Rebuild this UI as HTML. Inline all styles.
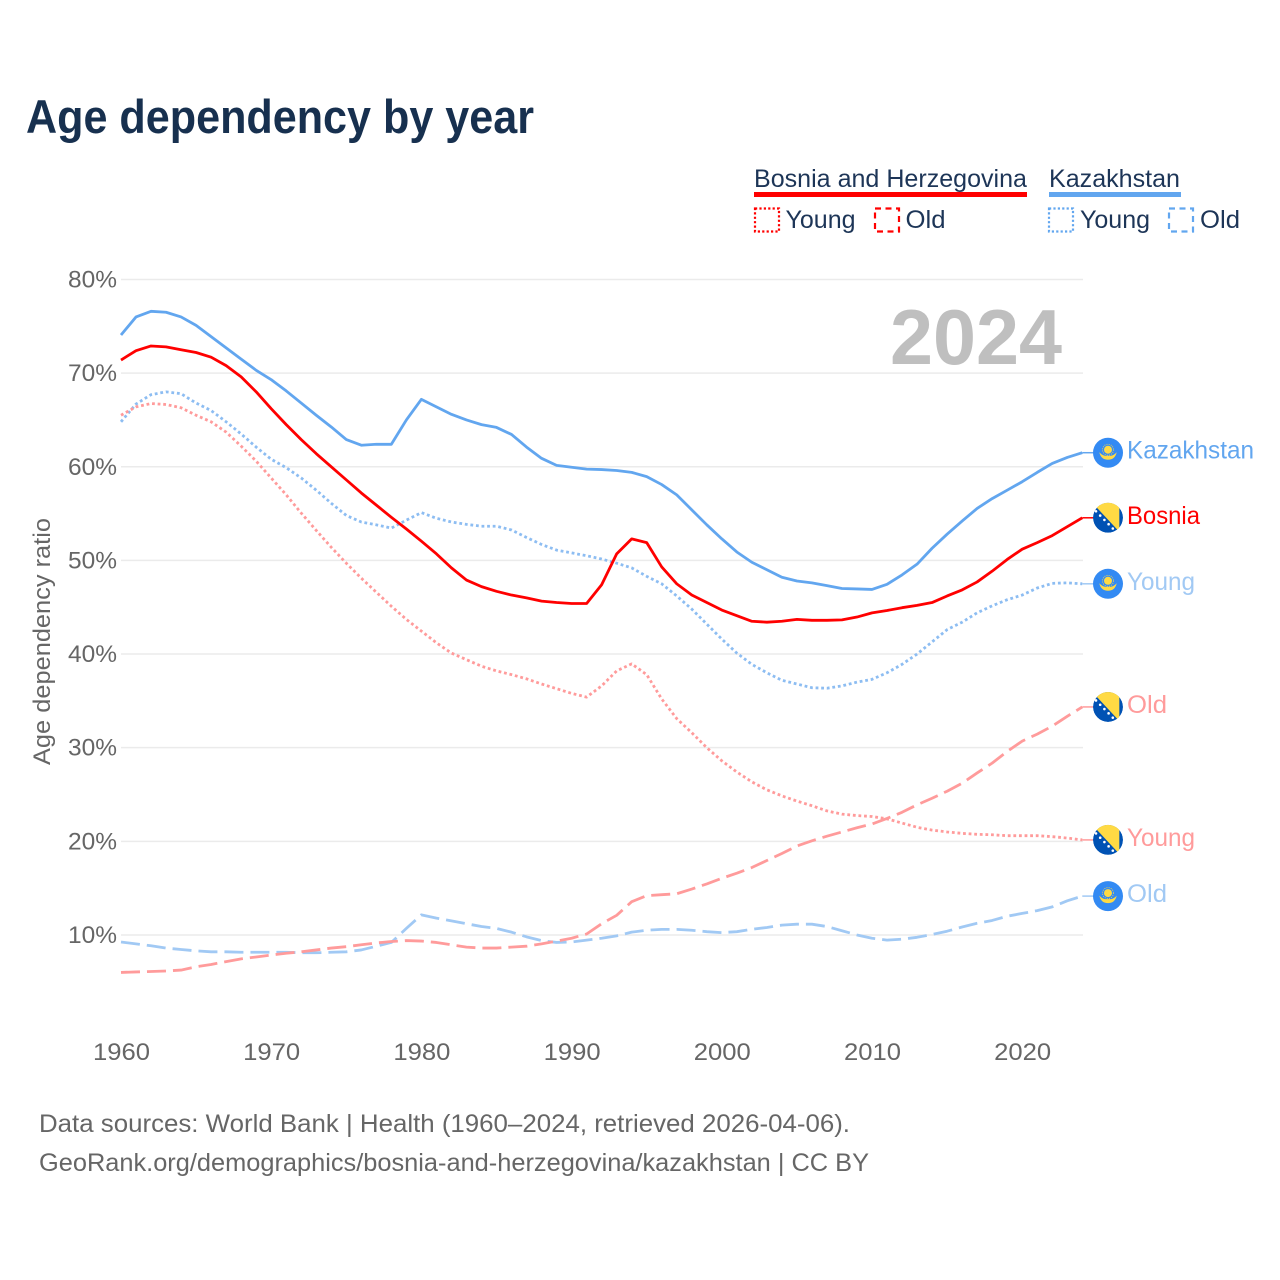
<!DOCTYPE html>
<html lang="en">
<head>
<meta charset="utf-8">
<title>Age dependency by year</title>
<style>
html,body{margin:0;padding:0;background:#fff;}
svg{display:block;}
text{font-family:"Liberation Sans",sans-serif;}
</style>
</head>
<body>
<svg id="chart" xmlns="http://www.w3.org/2000/svg" width="1280" height="1280" viewBox="0 0 1280 1280">
  <rect width="1280" height="1280" fill="#ffffff"/>
  <text x="26" y="133" font-size="47" font-weight="700" fill="#17304f" textLength="508" lengthAdjust="spacingAndGlyphs">Age dependency by year</text>

  <g font-size="25" fill="#1d3557">
    <text x="754" y="187" textLength="273" lengthAdjust="spacingAndGlyphs">Bosnia and Herzegovina</text>
    <rect x="754" y="192" width="273" height="5" fill="#ff0000"/>
    <text x="1049" y="187" textLength="131" lengthAdjust="spacingAndGlyphs">Kazakhstan</text>
    <rect x="1049" y="192" width="132" height="5" fill="#62a6ef"/>
    <rect x="755" y="208.500" width="24" height="23" fill="none" stroke="#ff0000" stroke-width="2.200" stroke-dasharray="2.200 2.200"/>
    <text x="785.500" y="228" textLength="70" lengthAdjust="spacingAndGlyphs">Young</text>
    <rect x="875" y="208.500" width="24" height="23" fill="none" stroke="#ff0000" stroke-width="2.200" stroke-dasharray="6 4.500"/>
    <text x="905.500" y="228" textLength="40" lengthAdjust="spacingAndGlyphs">Old</text>
    <rect x="1049" y="208.500" width="24" height="23" fill="none" stroke="#62a6ef" stroke-width="2.200" stroke-dasharray="2.200 2.200"/>
    <text x="1080" y="228" textLength="70" lengthAdjust="spacingAndGlyphs">Young</text>
    <rect x="1169" y="208.500" width="24" height="23" fill="none" stroke="#62a6ef" stroke-width="2.200" stroke-dasharray="6 4.500"/>
    <text x="1200" y="228" textLength="40" lengthAdjust="spacingAndGlyphs">Old</text>
  </g>

  <text x="890" y="364" font-size="78" font-weight="700" fill="#bfbfbf" textLength="172" lengthAdjust="spacingAndGlyphs">2024</text>
  <text transform="translate(50,641.500) rotate(-90)" text-anchor="middle" font-size="24" fill="#666666" textLength="247" lengthAdjust="spacingAndGlyphs">Age dependency ratio</text>

  <g id="grid"></g>
  <g id="yticks"></g>
  <g id="xticks"></g>
  <g id="series"></g>
  <g id="ends"></g>

  <text x="39" y="1132" font-size="25" fill="#666666" textLength="811" lengthAdjust="spacingAndGlyphs">Data sources: World Bank | Health (1960–2024, retrieved 2026-04-06).</text>
  <text x="39" y="1171" font-size="25" fill="#666666" textLength="830" lengthAdjust="spacingAndGlyphs">GeoRank.org/demographics/bosnia-and-herzegovina/kazakhstan | CC BY</text>

  <defs>
    <clipPath id="flag-clip"><circle cx="0" cy="0" r="15"/></clipPath>
  </defs>
</svg>

<script>
const startYear = 1960;
const yTickValues = [10, 20, 30, 40, 50, 60, 70, 80];
const yTickLabels = ["10%", "20%", "30%", "40%", "50%", "60%", "70%", "80%"];
const xTickValues = [1960, 1970, 1980, 1990, 2000, 2010, 2020];
const xTickLabels = ["1960", "1970", "1980", "1990", "2000", "2010", "2020"];

const kazakhstanTotal = [74.07,76.0,76.6,76.5,76.0,75.1,73.9,72.7,71.5,70.3,69.3,68.1,66.8,65.5,64.25,62.9,62.3,62.4,62.4,65.0,67.2,66.4,65.6,65.0,64.5,64.2,63.45,62.1,60.9,60.15,59.95,59.75,59.7,59.6,59.4,58.95,58.1,57.0,55.4,53.8,52.3,50.9,49.8,49.0,48.2,47.8,47.6,47.3,47.0,46.95,46.9,47.45,48.45,49.6,51.3,52.8,54.2,55.55,56.6,57.5,58.4,59.4,60.35,61.0,61.5];
const bosniaTotal = [71.4,72.4,72.9,72.8,72.5,72.2,71.7,70.8,69.6,68.0,66.2,64.5,62.9,61.4,60.0,58.6,57.2,55.9,54.6,53.35,52.05,50.7,49.2,47.9,47.2,46.7,46.3,46.0,45.65,45.5,45.4,45.4,47.4,50.7,52.3,51.9,49.3,47.5,46.3,45.5,44.7,44.1,43.5,43.4,43.5,43.7,43.6,43.6,43.65,43.95,44.4,44.65,44.95,45.2,45.5,46.2,46.85,47.7,48.85,50.1,51.2,51.9,52.65,53.6,54.55];
const kazakhstanYoung = [64.8,66.7,67.7,68.0,67.8,66.8,66.0,64.8,63.5,62.1,60.8,59.9,58.8,57.5,56.1,54.8,54.1,53.8,53.45,54.3,55.1,54.5,54.1,53.85,53.65,53.65,53.25,52.45,51.7,51.1,50.8,50.5,50.15,49.7,49.2,48.3,47.5,46.2,44.8,43.2,41.6,40.1,38.9,38.0,37.2,36.8,36.4,36.35,36.6,37.0,37.3,38.0,38.9,40.0,41.3,42.6,43.4,44.4,45.15,45.8,46.3,47.05,47.55,47.6,47.5];
const bosniaYoung = [65.5,66.4,66.75,66.65,66.3,65.5,64.8,63.7,62.2,60.6,58.8,57.0,55.05,53.2,51.4,49.7,48.1,46.6,45.1,43.7,42.45,41.2,40.1,39.4,38.7,38.2,37.8,37.35,36.8,36.3,35.8,35.4,36.6,38.2,38.95,37.8,35.2,33.1,31.6,30.0,28.6,27.4,26.35,25.5,24.85,24.3,23.8,23.25,22.9,22.75,22.65,22.4,21.95,21.5,21.2,21.0,20.85,20.75,20.7,20.6,20.6,20.6,20.5,20.35,20.15];
const bosniaOld = [6.0,6.05,6.1,6.15,6.25,6.6,6.85,7.15,7.45,7.65,7.85,8.05,8.2,8.4,8.6,8.75,8.95,9.15,9.3,9.4,9.35,9.2,8.95,8.7,8.6,8.6,8.7,8.8,9.05,9.35,9.65,10.1,11.2,12.1,13.55,14.2,14.3,14.4,14.9,15.45,16.05,16.6,17.2,17.95,18.7,19.5,20.05,20.55,21.0,21.45,21.85,22.45,23.1,23.9,24.6,25.35,26.2,27.3,28.35,29.6,30.7,31.45,32.3,33.35,34.35];
const kazakhstanOld = [9.25,9.05,8.85,8.6,8.45,8.3,8.2,8.2,8.15,8.15,8.15,8.15,8.1,8.1,8.15,8.2,8.4,8.8,9.2,10.7,12.15,11.8,11.5,11.2,10.9,10.7,10.3,9.8,9.4,9.2,9.25,9.45,9.65,9.9,10.3,10.5,10.6,10.6,10.5,10.35,10.25,10.35,10.6,10.8,11.05,11.15,11.15,10.9,10.45,10.0,9.65,9.45,9.55,9.75,10.05,10.4,10.85,11.25,11.55,12.0,12.3,12.6,13.0,13.65,14.15];

const NS = "http://www.w3.org/2000/svg";
function xScale(year) { return 121 + (year - 1960) * 15.02; }
function yScale(value) { return 1028.6 - value * 9.364; }

const gridLayer = document.getElementById("grid");
const yLayer = document.getElementById("yticks");
yTickValues.forEach(function (value, i) {
  const line = document.createElementNS(NS, "line");
  
  
  line.setAttribute("x1", 121);
  line.setAttribute("x2", 1083);
  line.setAttribute("y1", yScale(value));
  line.setAttribute("y2", yScale(value));
  line.setAttribute("stroke", "#ebebeb");
  line.setAttribute("stroke-width", "1.500");
  gridLayer.appendChild(line);

  const label = document.createElementNS(NS, "text");
  
  
  label.setAttribute("x", 68);
  label.setAttribute("y", yScale(value) + 8);
  label.setAttribute("font-size", "24");
  label.setAttribute("fill", "#666666");
  label.setAttribute("textLength", "49");
  label.setAttribute("lengthAdjust", "spacingAndGlyphs");
  label.textContent = yTickLabels[i];
  yLayer.appendChild(label);
});

const xLayer = document.getElementById("xticks");
xTickValues.forEach(function (year, i) {
  const label = document.createElementNS(NS, "text");
  
  
  label.setAttribute("x", xScale(year) - 28);
  label.setAttribute("y", 1060);
  label.setAttribute("font-size", "24");
  label.setAttribute("fill", "#666666");
  label.setAttribute("textLength", "57");
  label.setAttribute("lengthAdjust", "spacingAndGlyphs");
  label.textContent = xTickLabels[i];
  xLayer.appendChild(label);
});

function pathFor(values) {
  return values.map(function (v, i) {
    return (i ? "L" : "M") + xScale(startYear + i).toFixed(2) + " " + yScale(v).toFixed(2);
  }).join("");
}

function drawLine(name, values, color, dash) {
  const p = document.createElementNS(NS, "path");
  
  
  p.setAttribute("d", pathFor(values));
  p.setAttribute("fill", "none");
  p.setAttribute("stroke", color);
  p.setAttribute("stroke-width", "2.800");
  p.setAttribute("stroke-linejoin", "round");
  if (dash) p.setAttribute("stroke-dasharray", dash);
  document.getElementById("series").appendChild(p);
}

const blue = "#62a6ef", blueLight = "#a1c9f4", red = "#ff0000", redLight = "#ff9b9b";
drawLine("line-kazakhstan-young", kazakhstanYoung, "#8dbdf2", "2.800 2.800");
drawLine("line-kazakhstan-old", kazakhstanOld, blueLight, "19 7");
drawLine("line-bosnia-young", bosniaYoung, redLight, "2.800 2.800");
drawLine("line-bosnia-old", bosniaOld, redLight, "19 7");
drawLine("line-kazakhstan-total", kazakhstanTotal, blue, "");
drawLine("line-bosnia-total", bosniaTotal, red, "");

function kazakhstanFlag(group) {
  group.innerHTML =
    '<circle r="15" fill="#338af3"/>' +
    '<circle cy="-3" r="4" fill="#ffda44"/>' +
    '<circle cy="-3" r="5.500" fill="none" stroke="#ffda44" stroke-width="0.800" stroke-dasharray="1 1.200"/>' +
    '<path d="M-8.700 -0.500 Q-6 2.500 -3 3 L3 3 Q6 2.500 8.700 -0.500 Q7 7 0 7 Q-7 7 -8.700 -0.500Z" fill="#ffda44"/>';
}

function bosniaFlag(group) {
  let dots = "";
  for (let k = 0; k < 6; k++) {
    dots += '<circle cx="' + (-12 + k * 4.2).toFixed(1) + '" cy="' + (-6.5 + k * 4.3).toFixed(1) + '" r="1.300" fill="#ffffff"/>';
  }
  group.innerHTML =
    '<g clip-path="url(#flag-clip)">' +
    '<circle r="15" fill="#0052b4"/>' +
    '<polygon points="-12,-11 -5,-20 11.300,-20 11.300,14" fill="#ffda44"/>' +
    dots + '</g>';
}

function drawEnd(name, text, values, color, flag, width) {
  const layer = document.getElementById("ends");
  const last = values[values.length - 1];
  const x0 = xScale(startYear + values.length - 1);
  const y0 = yScale(last);

  const leader = document.createElementNS(NS, "line");
  
  
  leader.setAttribute("x1", x0);
  leader.setAttribute("x2", 1094);
  leader.setAttribute("y1", y0);
  leader.setAttribute("y2", y0);
  leader.setAttribute("stroke", color);
  leader.setAttribute("stroke-width", "1.500");
  layer.appendChild(leader);

  const icon = document.createElementNS(NS, "g");
  
  
  icon.setAttribute("transform", "translate(1108," + y0 + ")");
  flag(icon);
  layer.appendChild(icon);

  const label = document.createElementNS(NS, "text");
  
  
  label.setAttribute("x", 1127);
  label.setAttribute("y", y0 + 6);
  label.setAttribute("font-size", "25");
  label.setAttribute("fill", color);
  label.setAttribute("textLength", width);
  label.setAttribute("lengthAdjust", "spacingAndGlyphs");
  label.textContent = text;
  layer.appendChild(label);
}

drawEnd("end-kazakhstan-total", "Kazakhstan", kazakhstanTotal, blue, kazakhstanFlag, 127);
drawEnd("end-bosnia-total", "Bosnia", bosniaTotal, red, bosniaFlag, 73);
drawEnd("end-kazakhstan-young", "Young", kazakhstanYoung, blueLight, kazakhstanFlag, 68);
drawEnd("end-bosnia-old", "Old", bosniaOld, redLight, bosniaFlag, 40);
drawEnd("end-bosnia-young", "Young", bosniaYoung, redLight, bosniaFlag, 68);
drawEnd("end-kazakhstan-old", "Old", kazakhstanOld, blueLight, kazakhstanFlag, 40);
</script>
</body>
</html>
